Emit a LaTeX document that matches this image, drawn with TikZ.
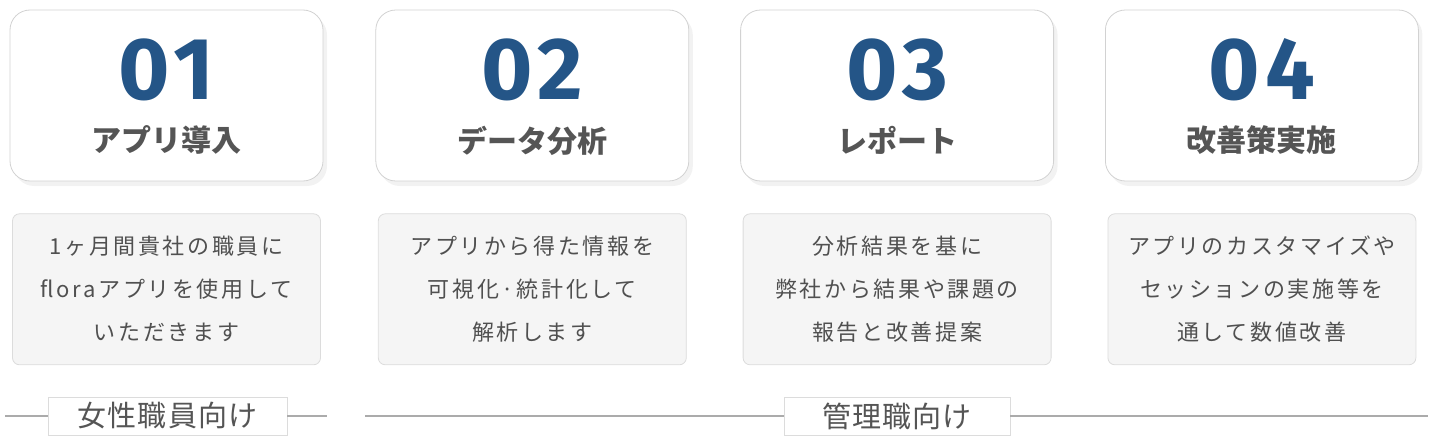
\documentclass[tikz,border=0pt]{standalone}
\usepackage{fontspec}
\usepackage{xcolor}
\usepackage{tikz}
\usetikzlibrary{
  positioning,
  shadows,
  calc,
}
\newfontfamily\jpfont{Noto Sans CJK JP}
\newfontfamily\jpspaced{Noto Sans CJK JP}[LetterSpace=12]
\newfontfamily\jptag{Noto Sans CJK JP}[LetterSpace=4]
\newfontfamily\numfont{Fira Sans}[LetterSpace=6]
\definecolor{stepBlue}{HTML}{245587}
\definecolor{titleGray}{HTML}{555555}
\definecolor{noteFg}{HTML}{505050}
\definecolor{noteBg}{HTML}{F5F5F5}
\definecolor{noteLine}{HTML}{DCDCDC}
\definecolor{cardLine}{HTML}{D2D2D2}
\definecolor{ruleGray}{HTML}{ABABAB}
\tikzset{
  stepcard/.style={
    rectangle, rounded corners=20pt, draw=cardLine, line width=0.8pt,
    fill=white, minimum width=313pt, minimum height=171pt, inner sep=0pt,
    drop shadow={shadow xshift=4pt, shadow yshift=-5pt, opacity=0.10},
  },
  stepnum/.style={
    font=\numfont\bfseries\fontsize{88}{88}\selectfont, text=stepBlue,
    inner sep=0pt,
  },
  steptitle/.style={
    font=\jpfont\bfseries\fontsize{30}{30}\selectfont, text=titleGray,
    inner sep=0pt,
  },
  notecard/.style={
    rectangle, rounded corners=7pt, draw=noteLine, line width=0.8pt,
    fill=noteBg, minimum width=308pt, minimum height=151pt, inner sep=0pt,
    align=center, text=noteFg,
    font=\jpspaced\fontsize{22}{43}\selectfont,
  },
  tagbox/.style={
    rectangle, draw=noteLine, line width=0.8pt, fill=white,
    minimum height=38pt, inner sep=0pt, text=titleGray,
    font=\jptag\fontsize{29}{29}\selectfont,
  },
  ruleline/.style={draw=ruleGray, line width=1.6pt},
}

\begin{document}
\begin{tikzpicture}[x=1pt, y=-1pt]
\useasboundingbox (0,0) rectangle (1440,436);

% step cards
\node[stepcard] (card1) at (166.5,95.5) {};
\node[stepcard, right=52pt of card1] (card2) {};
\node[stepcard, right=51pt of card2] (card3) {};
\node[stepcard, right=51pt of card3] (card4) {};

\node[stepnum] (num1) at ([yshift=-60pt]card1.north) {01};
\node[stepnum] (num2) at ([yshift=-60pt]card2.north) {02};
\node[stepnum] (num3) at ([yshift=-60pt]card3.north) {03};
\node[stepnum] (num4) at ([yshift=-60pt]card4.north) {04};

\node[steptitle] (title1) at ([yshift=41pt]card1.south) {アプリ導入};
\node[steptitle] (title2) at ([yshift=41pt]card2.south) {データ分析};
\node[steptitle] (title3) at ([yshift=41pt]card3.south) {レポート};
\node[steptitle] (title4) at ([yshift=41pt]card4.south) {改善策実施};

% notes
\node[notecard, below=32pt of card1] (note1) {%
  1ヶ月間貴社の職員に\\
  floraアプリを使用して\\
  いただきます};
\node[notecard, below=32pt of card2] (note2) {%
  アプリから得た情報を\\
  可視化·統計化して\\
  解析します};
\node[notecard, below=32pt of card3] (note3) {%
  分析結果を基に\\
  弊社から結果や課題の\\
  報告と改善提案};
\node[notecard, below=32pt of card4] (note4) {%
  アプリのカスタマイズや\\
  セッションの実施等を\\
  通して数値改善};

% target groups
\node[tagbox, minimum width=239pt] (tagA) at (167.5,416) {女性職員向け};
\node[tagbox, minimum width=226pt] (tagB) at (897,416) {管理職向け};
\coordinate (ruleA0) at (5,416);
\coordinate (ruleA1) at (327,416);
\coordinate (ruleB0) at (365,416);
\coordinate (ruleB1) at (1428,416);
\draw[ruleline] (ruleA0) -- (tagA.west);
\draw[ruleline] (tagA.east) -- (ruleA1);
\draw[ruleline] (ruleB0) -- (tagB.west);
\draw[ruleline] (tagB.east) -- (ruleB1);
\end{tikzpicture}
\end{document}
